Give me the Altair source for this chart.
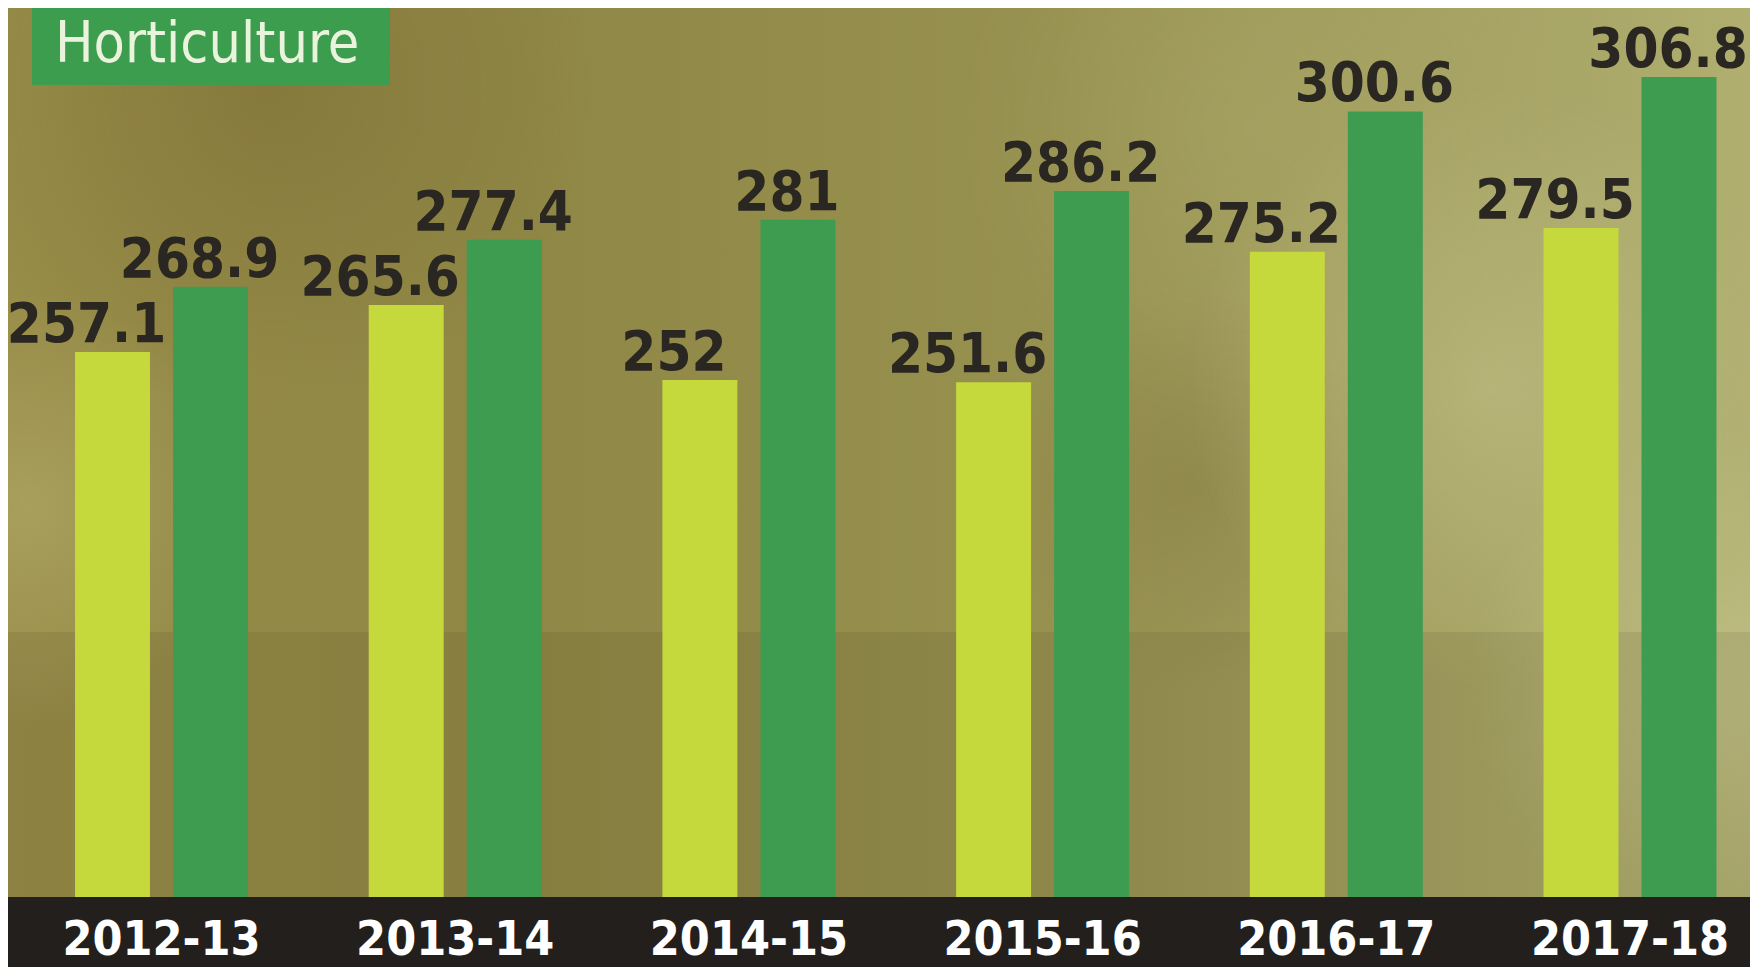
import altair as alt
import pandas as pd

# ---- data ----
years = ["2012-13", "2013-14", "2014-15", "2015-16", "2016-17", "2017-18"]
foodgrains = [257.1, 265.6, 252.0, 251.6, 275.2, 279.5]
horticulture = [268.9, 277.4, 281.0, 286.2, 300.6, 306.8]
series_names = ["Foodgrains", "Horticulture"]
title_text = "Horticulture"

rows = []
for yr, f, h in zip(years, foodgrains, horticulture):
    rows.append({"year": yr, "series": series_names[0], "value": f, "label": f"{f:g}"})
    rows.append({"year": yr, "series": series_names[1], "value": h, "label": f"{h:g}"})
df = pd.DataFrame(rows)
year_df = pd.DataFrame({"year": years})
one = pd.DataFrame({"k": [0]})

# ---- layout ----
W, H, PH = 1742, 959, 889
BASE, TOP = 158.5, 319.3
LIGHT, GREEN = "#c5d93c", "#3e9c50"
INK = "#2a2622"
FONT = "DejaVu Sans Condensed, Liberation Sans Narrow, Roboto, sans-serif"

x_scale = alt.Scale(domain=years, range=[6.65, 1768.85], paddingInner=0, paddingOuter=0)
off_scale = alt.Scale(domain=series_names, paddingInner=0.235, paddingOuter=0.616)
y_scale = alt.Scale(domain=[BASE, TOP], range=[PH, 0], zero=False, nice=False, clamp=True)

X = alt.X("year:N", scale=x_scale, sort=years, axis=None)
XO = alt.XOffset("series:N", scale=off_scale, sort=series_names)
Y = alt.Y("value:Q", scale=y_scale, axis=None)

def box(x0, x1, y0, y1, fill, opacity=1.0):
    return alt.Chart(one).mark_rect(color=fill, opacity=opacity).encode(
        x=alt.value(x0), x2=alt.value(x1), y=alt.value(y0), y2=alt.value(y1)
    )

def radial(cx, cy, r, color, a):
    return alt.Chart(one).mark_rect(
        color={
            "gradient": "radial",
            "x1": 0.5, "y1": 0.5, "r1": 0,
            "x2": 0.5, "y2": 0.5, "r2": 0.5,
            "stops": [
                {"offset": 0, "color": f"rgba({color},{a})"},
                {"offset": 1, "color": f"rgba({color},0)"},
            ],
        }
    ).encode(x=alt.value(cx - r), x2=alt.value(cx + r), y=alt.value(cy - r), y2=alt.value(cy + r))

bg = box(0, W, 0, PH, {
    "gradient": "linear", "x1": 0, "y1": 0, "x2": 1, "y2": 0,
    "stops": [
        {"offset": 0, "color": "#978c48"},
        {"offset": 0.3, "color": "#8f8745"},
        {"offset": 0.6, "color": "#979150"},
        {"offset": 0.85, "color": "#a6a364"},
        {"offset": 1, "color": "#b0af70"},
    ],
})
glow1 = radial(1480, 380, 300, "205,204,150", 0.40)
glow2 = radial(1720, 680, 260, "212,210,160", 0.40)
glow3 = radial(20, 500, 220, "200,195,130", 0.35)
glow4 = radial(1250, 120, 300, "185,184,120", 0.22)
dark1 = radial(260, 80, 320, "110,90,40", 0.35)
dark2 = radial(1180, 480, 200, "110,100,45", 0.25)
horizon = box(0, W, 624, PH, "#3a3010", 0.10)

bars = alt.Chart(df).mark_bar().encode(
    x=X, xOffset=XO, y=Y, y2=alt.datum(BASE),
    color=alt.Color("series:N", scale=alt.Scale(domain=series_names, range=[LIGHT, GREEN]), legend=None),
)

lab_food = alt.Chart(df).transform_filter(alt.datum.series == series_names[0]).mark_text(
    align="center", baseline="alphabetic", dx=-26, dy=-10,
    font=FONT, fontWeight="bold", fontSize=56, color=INK,
).encode(x=X, xOffset=XO, y=Y, text="label:N")

lab_hort = alt.Chart(df).transform_filter(alt.datum.series == series_names[1]).mark_text(
    align="center", baseline="alphabetic", dx=-11, dy=-10,
    font=FONT, fontWeight="bold", fontSize=56, color=INK,
).encode(x=X, xOffset=XO, y=Y, text="label:N")

band = box(0, W, PH, H, "#221f1c")
year_labels = alt.Chart(year_df).mark_text(
    align="center", baseline="alphabetic",
    font=FONT, fontWeight="bold", fontSize=48, color="#ffffff",
).encode(x=X, y=alt.value(947), text="year:N")

title_box = box(24, 382, 0, 77, "#3d9d4e")
title = alt.Chart(one).mark_text(
    align="left", baseline="alphabetic", font=FONT, fontSize=57, color="#eaf4dc",
).encode(x=alt.value(47), y=alt.value(54), text=alt.value(title_text))

chart = alt.layer(
    bg, dark1, dark2, glow4, glow1, glow2, glow3, horizon,
    bars, lab_food, lab_hort, band, year_labels, title_box, title,
).properties(
    width=W, height=H,
    autosize=alt.AutoSizeParams(type="none"),
    padding=0,
).configure_view(stroke=None).configure(background="#958d4a")

chart.save("out.html", embed_options={"renderer": "svg", "actions": False})
